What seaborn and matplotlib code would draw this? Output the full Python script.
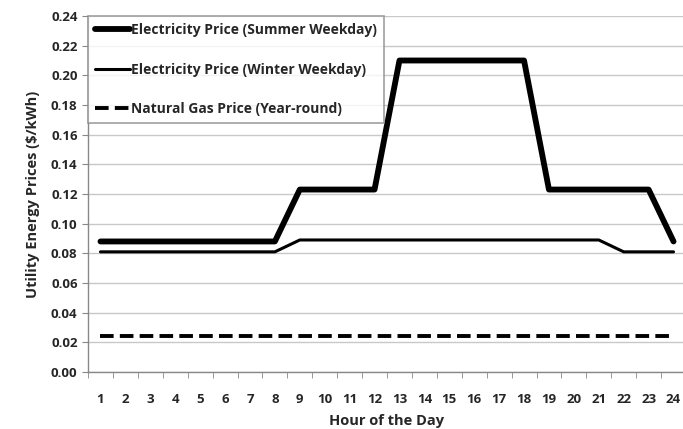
import pandas as pd
import numpy as np
import seaborn as sns
import matplotlib.pyplot as plt

# Data
hours = list(range(1, 25))
summer = [0.088] * 8 + [0.123] * 4 + [0.210] * 6 + [0.123] * 5 + [0.088]
winter = [0.081] * 8 + [0.089] * 13 + [0.081] * 3
gas = [0.024] * 24
yticks = [0.00, 0.02, 0.04, 0.06, 0.08, 0.10, 0.12, 0.14, 0.16, 0.18, 0.20, 0.22, 0.24]

sns.set_style("white")
plt.rcParams['font.family'] = ['Open Sans', 'DejaVu Sans']

fig = plt.figure(figsize=(6.83, 4.29), dpi=100)
ax = fig.add_axes([88 / 683, 1 - 372 / 429, (686 - 88) / 683, (372 - 16) / 429])

sns.lineplot(x=hours, y=summer, color="black", linewidth=4.2, ax=ax,
             label="Electricity Price (Summer Weekday)")
sns.lineplot(x=hours, y=winter, color="black", linewidth=2.2, ax=ax,
             label="Electricity Price (Winter Weekday)")
sns.lineplot(x=hours, y=gas, color="black", linewidth=2.8, ax=ax,
             linestyle=(0, (3.5, 1.6)), label="Natural Gas Price (Year-round)")

ax.set_xlim(0.5, 24.5)
ax.set_ylim(0, 0.24)
ax.set_yticks(yticks)
ax.set_yticklabels([f"{v:.2f}" for v in yticks])
ax.set_xticks(hours)
ax.set_xticklabels([str(h) for h in hours])
# category-boundary tick marks like the Excel axis
ax.set_xticks(np.arange(0.5, 25, 1), minor=True)
ax.tick_params(axis="x", which="major", length=0, pad=15, labelsize=9.5)
ax.tick_params(axis="x", which="minor", length=4, color="#888888", bottom=True)
ax.tick_params(axis="y", length=4, color="#888888", left=True, labelsize=9.5)
for lab in ax.get_xticklabels() + ax.get_yticklabels():
    lab.set_fontweight("bold")

ax.yaxis.grid(True, color="#c8c8c8", linewidth=1)
ax.set_axisbelow(True)
for side in ["top", "right"]:
    ax.spines[side].set_visible(False)
for side in ["left", "bottom"]:
    ax.spines[side].set_color("#888888")
    ax.spines[side].set_linewidth(1)

ax.set_xlabel("Hour of the Day", fontsize=10.5, fontweight="bold", labelpad=6)
ax.set_ylabel("Utility Energy Prices ($/kWh)", fontsize=10.5, fontweight="bold", labelpad=8)

leg = ax.legend(loc="upper left", bbox_to_anchor=(0, 1), borderaxespad=0,
                frameon=True, fancybox=False, handlelength=2.5, handletextpad=0.12,
                labelspacing=1.85, borderpad=0.5,
                prop={"weight": "bold", "size": 10})
leg.get_frame().set_edgecolor("#888888")
leg.get_frame().set_linewidth(1.2)

fig.savefig("out.png", dpi=100)
